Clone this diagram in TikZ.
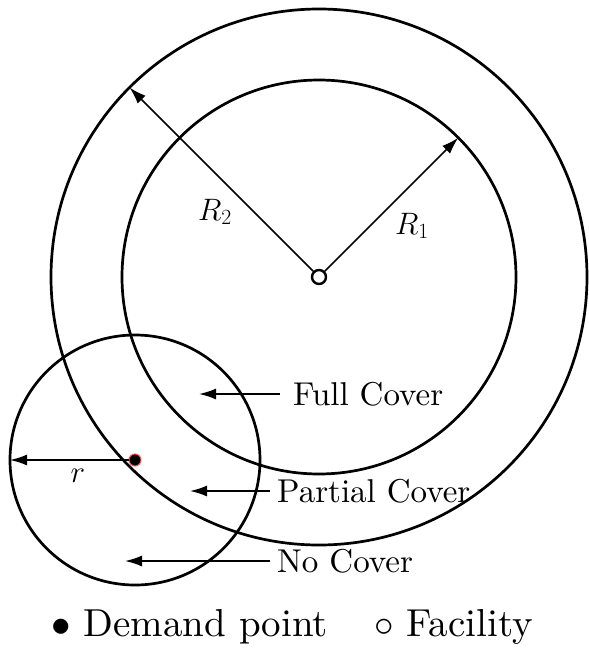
\RequirePackage{fix-cm}
\documentclass[tikz,border=0pt]{standalone}
\usepackage{fontspec}
\setmainfont{lmroman10-regular.otf}
\usetikzlibrary{arrows.meta,calc}

\begin{document}
\begin{tikzpicture}[x=1pt, y=-1pt,
		ring/.style={draw, line width=2.7pt},
		pointer/.style={-{Latex[length=17pt,width=11pt]}, line width=1.6pt},
		lbl/.style={font=\fontsize{33}{38}\selectfont, inner sep=0pt, anchor=west}
		]
		
		\useasboundingbox (0,0) rectangle (589,654);
		
		% ==========================================
		% CENTRES
		% ==========================================
		\coordinate (F) at (319,277);
		\coordinate (D) at (135,460);
		
		% ==========================================
		% COVERAGE CIRCLES
		% ==========================================
		\draw[ring] (F) circle[radius=197];
		\draw[ring] (F) circle[radius=268];
		\draw[ring] (D) circle[radius=125];
		
		% Tips of the radius arrows
		\coordinate (R1tip) at ($(F)+(-45:197)$);
		\coordinate (R2tip) at ($(F)+(-135:268)$);
		\coordinate (rtip) at ($(D)+(180:125)$);
		
		% ==========================================
		% FACILITY AND DEMAND POINT
		% ==========================================
		\node[circle, draw, fill=white, line width=2.4pt, minimum size=14pt, inner sep=0pt] (fac) at (F) {};
		\node[circle, fill=black, draw=red!70, line width=1pt, minimum size=12pt, inner sep=0pt] (dem) at (D) {};
		
		\draw[pointer] (fac) -- (R1tip);
		\draw[pointer] (fac) -- (R2tip);
		\draw[pointer] (dem) -- (rtip);
		
		\node[font=\fontsize{31}{36}\selectfont] (R1) at (412,226) {$R_1$};
		\node[font=\fontsize{31}{36}\selectfont] (R2) at (215,212) {$R_2$};
		\node[font=\fontsize{31}{36}\selectfont] (rlab) at (78,476) {$r$};
		
		% ==========================================
		% ZONE LABELS
		% ==========================================
		\node[lbl] (full) at (293,394) {Full Cover};
		\node[lbl] (partial) at (277,491) {Partial Cover};
		\node[lbl] (none) at (277,561) {No Cover};
		
		\coordinate (fulltip) at (199,394);
		\coordinate (partialtip) at (190,491);
		\coordinate (nonetip) at (125,561);
		
		\draw[pointer] ([xshift=-13pt]full.west) -- (fulltip);
		\draw[pointer] ([xshift=-7pt]partial.west) -- (partialtip);
		\draw[pointer] ([xshift=-7pt]none.west) -- (nonetip);
		
		% ==========================================
		% LEGEND
		% ==========================================
		\node[font=\fontsize{39}{45}\selectfont] (legend) at (292,627) {$\bullet$ Demand point\hspace{46pt}$\circ$ Facility};
		
	\end{tikzpicture}
\end{document}
